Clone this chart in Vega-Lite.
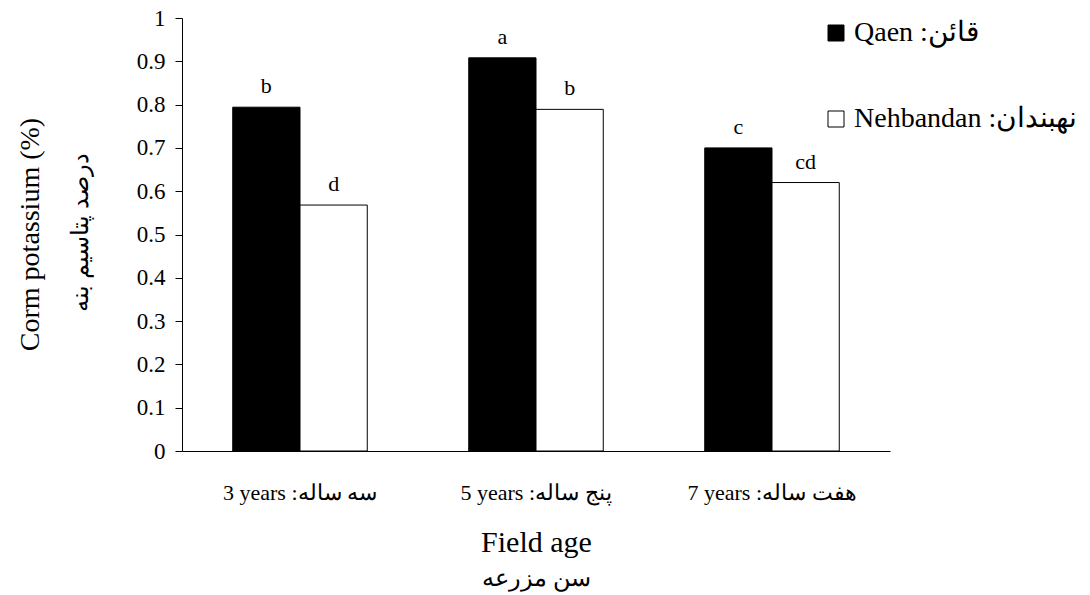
{
  "$schema": "https://vega.github.io/schema/vega-lite/v6.json",
  "width": 708,
  "height": 433,
  "autosize": {"type": "none"},
  "padding": {"left": 182, "top": 18, "right": 200, "bottom": 144},
  "background": "white",
  "config": {
    "view": {"stroke": null},
    "font": "Liberation Serif",
    "axis": {
      "grid": false,
      "domainColor": "black",
      "domainWidth": 1,
      "tickColor": "black",
      "labelColor": "black",
      "titleColor": "black",
      "labelFont": "Liberation Serif",
      "titleFont": "Liberation Serif",
      "titleFontWeight": "normal"
    },
    "legend": {
      "labelFont": "Liberation Serif",
      "titleFont": "Liberation Serif"
    }
  },
  "data": {
    "values": [
      {"age": "3 years :سه ساله", "site": "Qaen :قائن", "value": 0.794, "letter": "b"},
      {"age": "3 years :سه ساله", "site": "Nehbandan :نهبندان", "value": 0.568, "letter": "d"},
      {"age": "5 years :پنج ساله", "site": "Qaen :قائن", "value": 0.908, "letter": "a"},
      {"age": "5 years :پنج ساله", "site": "Nehbandan :نهبندان", "value": 0.789, "letter": "b"},
      {"age": "7 years :هفت ساله", "site": "Qaen :قائن", "value": 0.700, "letter": "c"},
      {"age": "7 years :هفت ساله", "site": "Nehbandan :نهبندان", "value": 0.620, "letter": "cd"}
    ]
  },
  "encoding": {
    "x": {
      "field": "age",
      "type": "nominal",
      "sort": ["3 years :سه ساله", "5 years :پنج ساله", "7 years :هفت ساله"],
      "scale": {"paddingInner": 0.43, "paddingOuter": 0.215},
      "axis": {
        "title": "Field age",
        "titleFontSize": 30,
        "titleX": 354,
        "titleY": 100,
        "titleBaseline": "alphabetic",
        "titleAlign": "center",
        "labelFontSize": 22,
        "labelAngle": 0,
        "ticks": false,
        "tickSize": 0,
        "labelPadding": 31
      }
    },
    "xOffset": {
      "field": "site",
      "type": "nominal",
      "sort": ["Qaen :قائن", "Nehbandan :نهبندان"]
    },
    "y": {
      "field": "value",
      "type": "quantitative",
      "scale": {"domain": [0, 1], "nice": false},
      "axis": {
        "values": [0, 0.1, 0.2, 0.3, 0.4, 0.5, 0.6, 0.7, 0.8, 0.9, 1],
        "format": "~g",
        "tickSize": 7,
        "labelPadding": 10,
        "labelFontSize": 23,
        "title": "Corm potassium (%)",
        "titleFontSize": 28,
        "titleX": -152,
        "titleY": 216,
        "titleAngle": -90,
        "titleBaseline": "middle",
        "titleAlign": "center"
      }
    }
  },
  "layer": [
    {
      "mark": {"type": "bar", "stroke": "black", "strokeWidth": 1},
      "encoding": {
        "fill": {
          "field": "site",
          "type": "nominal",
          "sort": ["Qaen :قائن", "Nehbandan :نهبندان"],
          "scale": {"domain": ["Qaen :قائن", "Nehbandan :نهبندان"], "range": ["black", "white"]},
          "legend": {
            "orient": "none",
            "legendX": 640,
            "legendY": 1,
            "title": null,
            "symbolType": "square",
            "symbolSize": 256,
            "symbolStrokeColor": "black",
            "symbolStrokeWidth": 1,
            "labelFontSize": 28,
            "labelFont": "Liberation Serif",
            "labelColor": "black",
            "labelOffset": 4,
            "rowPadding": 58,
            "padding": 0,
            "labelLimit": 400
          }
        }
      }
    },
    {
      "mark": {"type": "text", "baseline": "alphabetic", "dy": -14, "fontSize": 22, "font": "Liberation Serif", "color": "black"},
      "encoding": {
        "text": {"field": "letter"},
        "x": {
          "field": "age",
          "type": "nominal",
          "sort": ["3 years :سه ساله", "5 years :پنج ساله", "7 years :هفت ساله"],
          "scale": {"paddingInner": 0.43, "paddingOuter": 0.215},
          "axis": {
            "orient": "top",
            "title": "سن مزرعه",
            "titleFontSize": 24,
            "titleX": 354,
            "titleY": 567,
            "titleBaseline": "alphabetic",
            "titleAlign": "center",
            "labels": false,
            "ticks": false,
            "domain": false
          }
        },
        "y": {
          "field": "value",
          "type": "quantitative",
          "scale": {"domain": [0, 1], "nice": false},
          "axis": {
            "orient": "right",
            "title": "درصد پتاسیم بنه",
            "titleFontSize": 24,
            "titleX": -810,
            "titleY": 214,
            "titleAngle": -90,
            "titleBaseline": "middle",
            "titleAlign": "center",
            "labels": false,
            "ticks": false,
            "domain": false
          }
        }
      }
    }
  ],
  "resolve": {"axis": {"x": "independent", "y": "independent"}}
}
